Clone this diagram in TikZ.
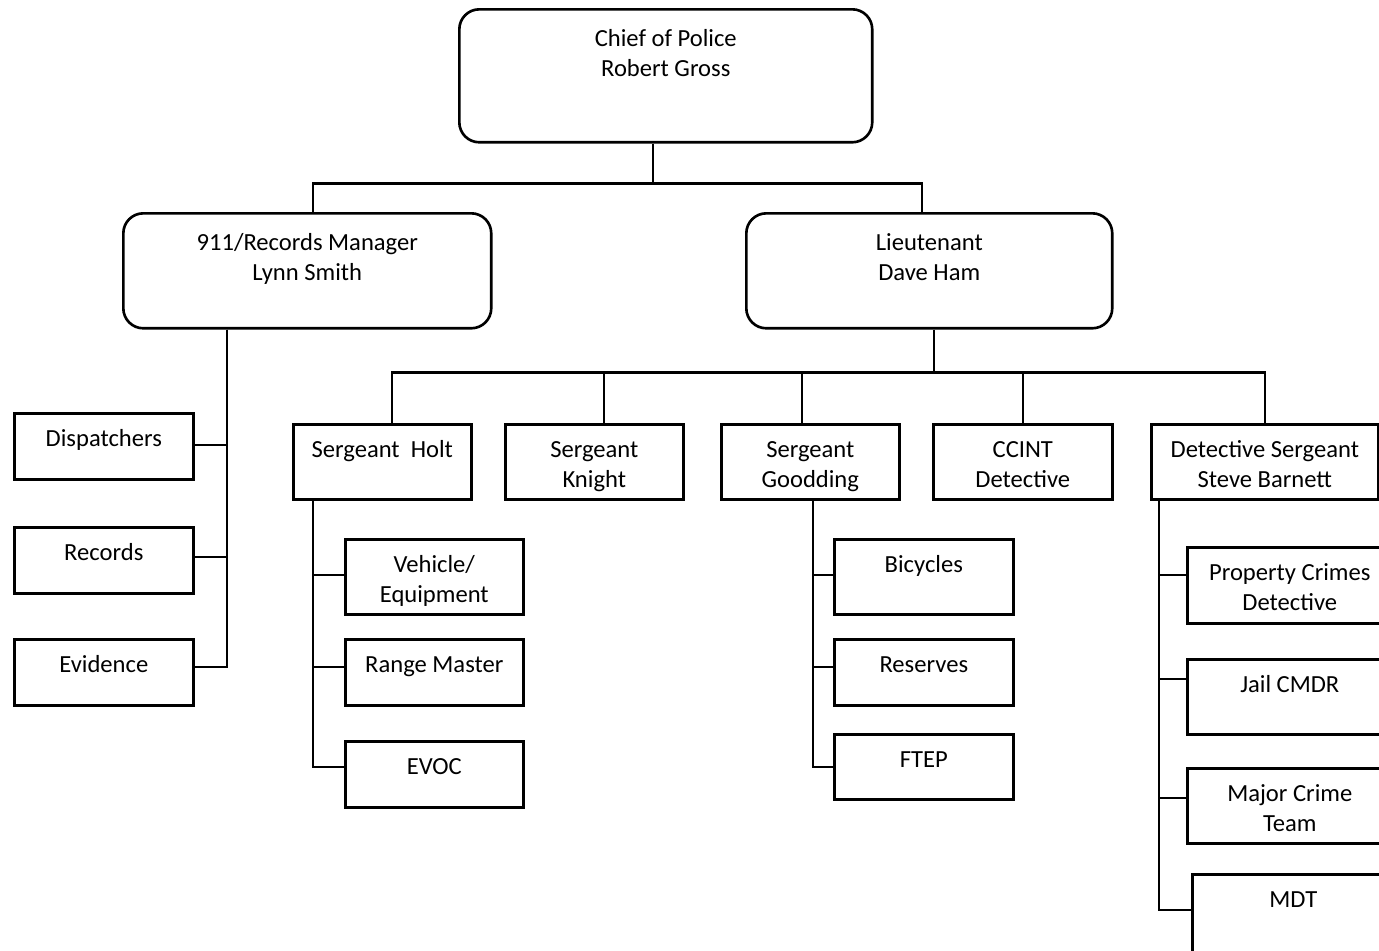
\documentclass[tikz,border=0pt]{standalone}
\usepackage{fontspec}
\setmainfont{Carlito}
\usetikzlibrary{calc}
\tikzset{
  box/.style={draw, line width=1.5pt, anchor=north west, align=center,
    inner ysep=0pt, text height=0.66cm, font=\fontsize{14}{17}\selectfont},
  lowbox/.style={box, text depth=0.66cm},
  highbox/.style={box, text depth=0.84cm},
  highpair/.style={box, text height=1.26cm, text depth=0.24cm},
  headbox/.style={box, rounded corners=0.4cm, text height=1.34cm}
  ,wire/.style={line width=1.3pt}
}

\begin{document}
\begin{tikzpicture}[x=0.02cm, y=-0.02cm]
  \clip (0,0) rectangle (1379,950);
  % top of the tree
  \node[headbox, minimum width=8.26cm, text depth=1.32cm] (chief) at (458,8) {Chief of Police\\Robert Gross};
  \node[headbox, minimum width=7.36cm, text depth=0.96cm] (rm) at (122,212) {911/Records Manager\\Lynn Smith};
  \node[headbox, minimum width=7.32cm, text depth=0.96cm] (lt) at (745,212) {Lieutenant\\Dave Ham};
  % sergeants
  \node[highbox, minimum width=3.56cm] (holt) at (292,423) {Sergeant~ Holt};
  \node[highpair, minimum width=3.56cm] (knight) at (504,423) {Sergeant\\Knight};
  \node[highpair, minimum width=3.56cm] (good) at (720,423) {Sergeant\\Goodding};
  \node[highpair, minimum width=3.58cm] (ccint) at (932,423) {CCINT\\Detective};
  \node[highpair, minimum width=4.54cm] (det) at (1150,423) {Detective Sergeant\\Steve Barnett};
  % records side
  \node[lowbox, minimum width=3.58cm] (disp) at (13,412) {Dispatchers};
  \node[lowbox, minimum width=3.58cm] (rec) at (13,526) {Records};
  \node[lowbox, minimum width=3.58cm] (evid) at (13,638) {Evidence};
  % under Holt
  \node[highpair, minimum width=3.56cm] (veh) at (344,538) {Vehicle/\\Equipment};
  \node[lowbox, minimum width=3.56cm] (range) at (344,638) {Range Master};
  \node[lowbox, minimum width=3.56cm] (evoc) at (344,740) {EVOC};
  % under Goodding
  \node[highbox, minimum width=3.58cm] (bike) at (833,538) {Bicycles};
  \node[lowbox, minimum width=3.58cm] (res) at (833,638) {Reserves};
  \node[lowbox, minimum width=3.58cm, text depth=0.64cm] (ftep) at (833,733) {FTEP};
  % under Barnett
  \node[highpair, minimum width=4.1cm, text depth=0.26cm] (prop) at (1186,546) {Property Crimes\\Detective};
  \node[highbox, minimum width=4.1cm] (jail) at (1186,658) {Jail CMDR};
  \node[highpair, minimum width=4.1cm] (major) at (1186,767) {Major Crime\\Team};
  \node[box, minimum width=4.04cm, text depth=1.14cm] (mdt) at (1191,873) {MDT};

  \coordinate (rmbus) at (227,0);
  \coordinate (holtbus) at (313,0);
  \coordinate (goodbus) at (813,0);
  \coordinate (detbus) at (1159,0);

  \draw[wire] ([xshift=-0.25cm]chief.south) -- ++(0,40) coordinate (chiefbus);
  \draw[wire] ([xshift=0.12cm]rm.north) |- (chiefbus) -| ([xshift=-0.14cm]lt.north);
  \draw[wire] ([xshift=0.1cm]lt.south) -- ++(0,43) coordinate (ltbus);
  \foreach \kid/\dx in {holt/0.2, knight/0.2, good/-0.16, ccint/0, det/0}
    \draw[wire] ([xshift=\dx cm]\kid.north) |- (ltbus);

  \foreach \kid/\dy in {disp/-1, rec/-3, evid/-5}
    \draw[wire] (rm.south -| rmbus) |- ($(\kid.east)+(0,\dy)$);
  \foreach \kid/\dy in {veh/-2, range/-5, evoc/-7}
    \draw[wire] (holt.south -| holtbus) |- ($(\kid.west)+(0,\dy)$);
  \foreach \kid/\dy in {bike/-2, res/-5, ftep/0}
    \draw[wire] (good.south -| goodbus) |- ($(\kid.west)+(0,\dy)$);
  \foreach \kid/\dy in {prop/-10, jail/-18, major/-8, mdt/-9}
    \draw[wire] (det.south -| detbus) |- ($(\kid.west)+(0,\dy)$);
\end{tikzpicture}
\end{document}
